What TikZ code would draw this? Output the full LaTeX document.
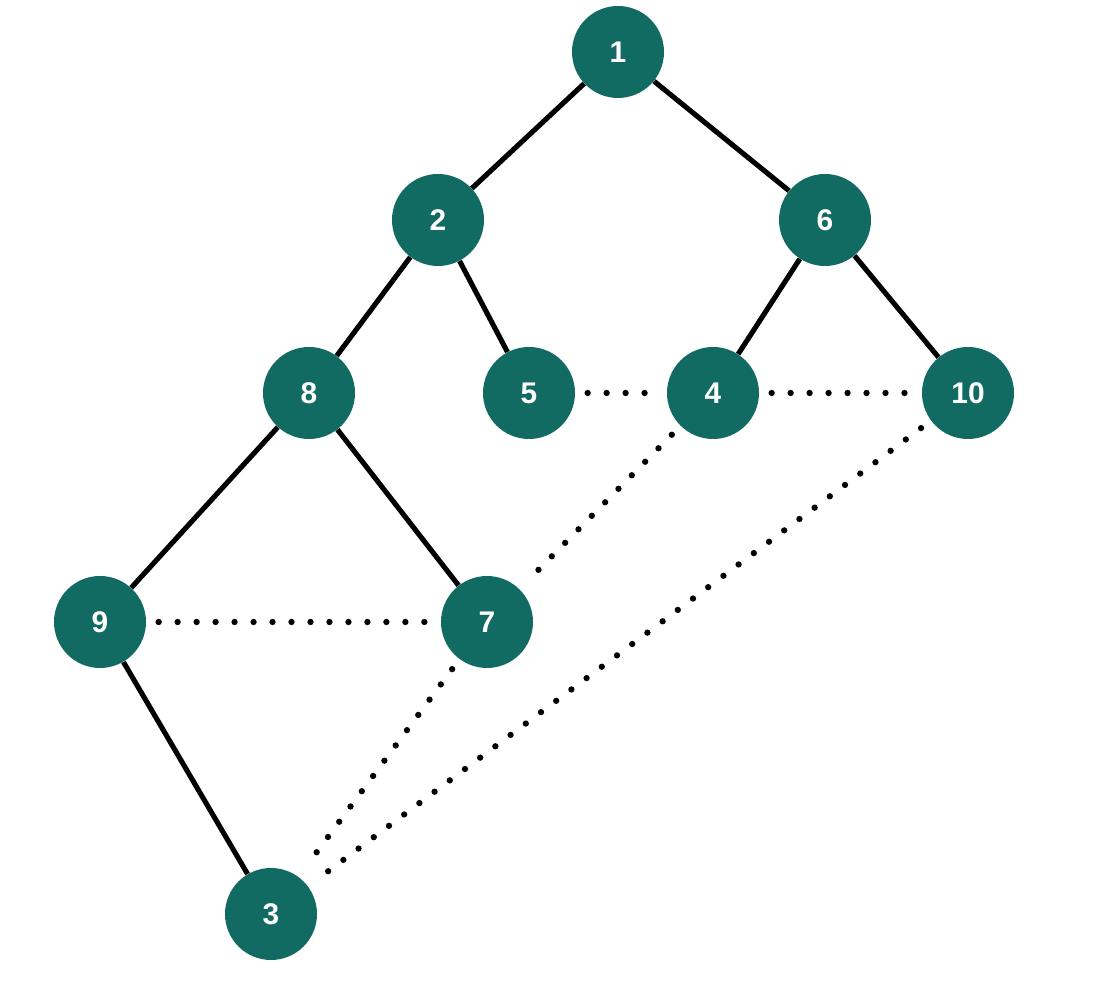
\documentclass[tikz,border=0pt]{standalone}
\usepackage{fontspec}
\setmainfont{Liberation Sans}
\definecolor{tealnode}{HTML}{116B63}

\begin{document}
\begin{tikzpicture}
\tikzstyle{vert}=[circle,fill=tealnode,text=white,minimum size=1.84cm,inner sep=0pt,font=\fontsize{17}{20}\selectfont\bfseries]
\tikzstyle{tree}=[line width=2.9pt]
\tikzstyle{dots}=[line width=3.6pt,line cap=round,dash pattern=on 0pt off 10.8pt,shorten <=7pt,shorten >=7pt]
\useasboundingbox (0,0) rectangle (21.88,19.72);
\node [vert] (v1) at (12.36,18.68) {1};
\node [vert] (v2) at (8.76,15.32) {2};
\node [vert] (v6) at (16.5,15.32) {6};
\node [vert] (v8) at (6.18,11.86) {8};
\node [vert] (v5) at (10.58,11.86) {5};
\node [vert] (v4) at (14.26,11.86) {4};
\node [vert] (v10) at (19.36,11.86) {10};
\node [vert] (v9) at (2.0,7.28) {9};
\node [vert] (v7) at (9.74,7.28) {7};
\node [vert] (v3) at (5.42,1.44) {3};
\draw [tree] (v1) -- (v2);
\draw [tree] (v1) -- (v6);
\draw [tree] (v2) -- (v8);
\draw [tree] (v2) -- (v5);
\draw [tree] (v6) -- (v4);
\draw [tree] (v6) -- (v10);
\draw [tree] (v8) -- (v9);
\draw [tree] (v8) -- (v7);
\draw [tree] (v9) -- (v3);
\draw [dots] (v5) -- (v4);
\draw [dots] (v4) -- (v10);
\draw [dots] (v4) -- (v7);
\draw [dots] (v10) -- (v3);
\draw [dots] (v9) -- (v7);
\draw [dots] (v7) -- (v3);
\end{tikzpicture}
\end{document}
